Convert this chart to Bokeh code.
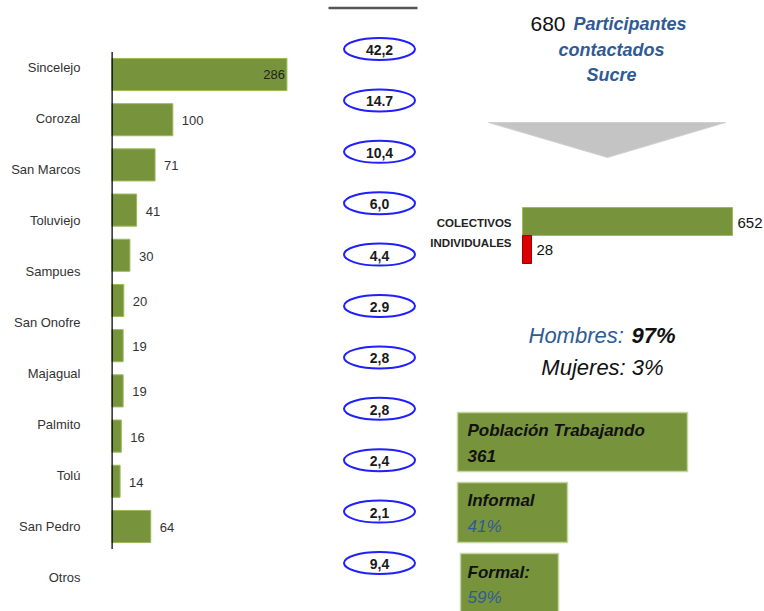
from bokeh.plotting import figure
from bokeh.layouts import row
from bokeh.models import Range1d, ColumnDataSource, FixedTicker
from bokeh.core.properties import value
from bokeh.embed import file_html
from bokeh.resources import INLINE

# ---------------- data ----------------
municipios = ["Sincelejo", "Corozal", "San Marcos", "Toluviejo", "Sampues",
              "San Onofre", "Majagual", "Palmito", "Tolú", "San Pedro", "Otros"]
participantes = [286, 100, 71, 41, 30, 20, 19, 19, 16, 14, 64]
porcentajes = ["42,2", "14.7", "10,4", "6,0", "4,4", "2.9", "2,8", "2,8", "2,4", "2,1", "9,4"]
total_participantes = 680
tipo = ["COLECTIVOS", "INDIVIDUALES"]
tipo_n = [652, 28]
genero = ["Hombres:", "Mujeres:"]
genero_pct = ["97%", "3%"]
poblacion_trabajando = 361
informal_pct = "41%"
formal_pct = "59%"

# ---------------- styles ----------------
GREEN = "#77933C"
GREEN_EDGE = "#9bbb59"
BLUE_TXT = "#2f5b94"
OVAL_BLUE = "#1f1fff"
FONT = value("Liberation Sans")

# ---------------- left: bar chart by municipality ----------------
n = len(municipios)
idx = list(range(n))
left = figure(width=322, height=611, output_backend="svg", toolbar_location=None,
              x_range=Range1d(0, 344), y_range=Range1d(start=n - 1 + 0.657, end=-1.3235),
              min_border_left=111, min_border_top=0, min_border_bottom=0, min_border_right=0,
              outline_line_color=None, x_axis_location=None,
              background_fill_color=None, border_fill_color="white")
left.extra_y_ranges = {"bars": Range1d(start=n - 1 + 1.881, end=-1.637)}
left.grid.visible = False
ax = left.yaxis[0]
ax.ticker = FixedTicker(ticks=idx)
ax.major_label_overrides = {i: m for i, m in zip(idx, municipios)}
ax.axis_line_color = None
ax.major_tick_line_color = None
ax.minor_tick_line_color = None
ax.major_tick_out = 0
ax.major_tick_in = 0
ax.major_label_standoff = 31
ax.major_label_text_font = "Liberation Sans"
ax.major_label_text_font_size = "13px"
ax.major_label_text_color = "#333333"

vmax = max(participantes)
src = ColumnDataSource(dict(idx=idx, v=participantes))
left.hbar(y="idx", left=0, right="v", height=0.71, source=src, y_range_name="bars",
          fill_color=GREEN, line_color=GREEN_EDGE, line_width=1)

inside = [i for i in idx if participantes[i] == vmax]
outside = [i for i in idx if participantes[i] != vmax]
left.text(x=[participantes[i] for i in inside], y=inside, text=[str(participantes[i]) for i in inside],
          y_range_name="bars", text_align="right", text_baseline="middle", x_offset=-2,
          text_font=FONT, text_font_size="13px", text_color="#222222")
left.text(x=[participantes[i] for i in outside], y=outside, text=[str(participantes[i]) for i in outside],
          y_range_name="bars", text_align="left", text_baseline="middle", x_offset=9, y_offset=1,
          text_font=FONT, text_font_size="13px", text_color="#333333")
# axis line
left.segment(x0=[0], y0=[-0.5], x1=[0], y1=[n - 0.5], y_range_name="bars",
             line_color="black", line_width=2.5)

# ---------------- right: infographic ----------------
right = figure(width=442, height=611, output_backend="svg", toolbar_location=None,
               x_range=Range1d(322, 764), y_range=Range1d(611, 0),
               min_border=0, outline_line_color=None,
               x_axis_location=None, y_axis_location=None,
               background_fill_color=None, border_fill_color="white")
right.grid.visible = False

# top rule
right.segment(x0=[328], y0=[7.5], x1=[417], y1=[7.5], line_color="#555555", line_width=2.5)

# percentage ovals
right.extra_y_ranges = {"ov": Range1d(start=n - 1 + 0.944, end=-0.944)}
osrc = ColumnDataSource(dict(idx=idx, t=porcentajes))
right.ellipse(x=379, y="idx", width=71, height=22, width_units="screen", height_units="screen",
              source=osrc, y_range_name="ov", fill_color="white",
              line_color=OVAL_BLUE, line_width=2)
right.text(x=379, y="idx", text="t", source=osrc, y_range_name="ov",
           text_align="center", text_baseline="middle", y_offset=1,
           text_font=FONT, text_font_size="14px", text_font_style="bold", text_color="#1a1a1a")

# title
right.text(x=[530], y=[23], text=[str(total_participantes)], text_align="left",
           text_baseline="middle", text_font=FONT, text_font_size="21px", text_color="#111111")
right.text(x=[573], y=[23], text=["Participantes"],
           text_align="left", text_baseline="middle", text_font=FONT, text_font_size="18px",
           text_font_style="bold italic", text_color=BLUE_TXT)
right.text(x=[611, 611], y=[49, 74], text=["contactados", "Sucre"],
           text_align="center", text_baseline="middle", text_font=FONT, text_font_size="18px",
           text_font_style="bold italic", text_color=BLUE_TXT)

# arrow
right.patch(x=[488, 725, 607], y=[122, 122, 157], fill_color="#c4c4c4", line_color="#d0d0d0")

# colectivos / individuales
right.extra_x_ranges = {"grp": Range1d(-620.9, 751.3)}
right.hbar(y=[221, 249], left=0, right=tipo_n, height=28, x_range_name="grp",
           fill_color=[GREEN, "#dd0000"], line_color=[GREEN_EDGE, "#990000"], line_width=1)
right.text(x=[0, 0], y=[222, 242], text=tipo, x_range_name="grp", x_offset=-11,
           text_align="right", text_baseline="middle", text_font=FONT,
           text_font_size="11.5px", text_font_style="bold", text_color="#222222")
right.text(x=tipo_n, y=[222, 249], text=[str(v) for v in tipo_n], x_range_name="grp", x_offset=5,
           text_align="left", text_baseline="middle", text_font=FONT,
           text_font_size="15px", text_color="#111111")

# gender
right.text(x=[528], y=[335], text=[genero[0]], text_align="left", text_baseline="middle",
           text_font=FONT, text_font_size="22px", text_font_style="italic", text_color=BLUE_TXT)
right.text(x=[675], y=[335], text=[genero_pct[0]], text_align="right", text_baseline="middle",
           text_font=FONT, text_font_size="22px", text_font_style="bold italic", text_color="#111111")
right.text(x=[602], y=[367], text=[genero[1] + " " + genero_pct[1]], text_align="center",
           text_baseline="middle", text_font=FONT, text_font_size="22px",
           text_font_style="italic", text_color="#111111")

# working population boxes
right.quad(left=[457, 457, 460], right=[687, 567, 558], top=[412, 482, 553], bottom=[471, 542, 615],
           fill_color=GREEN, line_color="#c3d69b", line_width=1.5)
right.text(x=[467, 467, 467, 467], y=[430, 455, 500, 572],
           text=["Población Trabajando", str(poblacion_trabajando), "Informal", "Formal:"],
           text_align="left", text_baseline="middle", text_font=FONT, text_font_size="17px",
           text_font_style="bold italic", text_color="#111111")
right.text(x=[467, 467], y=[526, 597], text=[informal_pct, formal_pct],
           text_align="left", text_baseline="middle", text_font=FONT, text_font_size="17px",
           text_font_style="italic", text_color=BLUE_TXT)

layout = row(left, right)
open("out.html", "w").write(file_html(layout, INLINE))
